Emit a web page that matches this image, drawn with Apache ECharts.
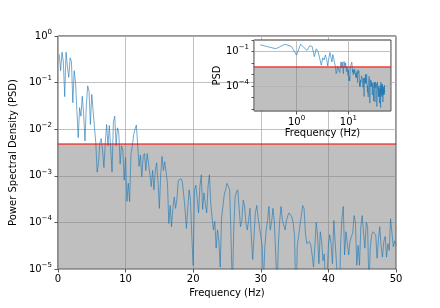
<!DOCTYPE html>
<html><head><meta charset="utf-8">
<script src="https://cdn.jsdelivr.net/npm/echarts@6/dist/echarts.min.js"></script>
<style>html,body{margin:0;padding:0;background:#fff}#c{width:440px;height:308px}</style>
</head><body><div id="c"></div>
<script>
// Frequency grid (Hz) of the PSD estimate
const freqStart = 0.2;
const freqStep = 0.2;
// PSD values, one per frequency bin (0.2 .. 50 Hz)
const psd = [
 0.40, 0.18, 0.45, 0.28, 0.05,
 0.45, 0.22, 0.13, 0.34, 0.28,
 3.7e-2, 0.18, 0.10, 2.5e-2, 6.6e-3,
 2.9e-2, 1.9e-2, 5.1e-2, 2.1e-2, 5.6e-3,
 3.2e-2, 8.5e-2, 6.6e-2, 1.26e-2, 5.6e-2,
 2.5e-2, 1.1e-2, 5.1e-3, 1.2e-3, 1.9e-3,
 5.0e-3, 6.3e-3, 3.5e-3, 1.5e-3, 5.1e-3,
 1.26e-2, 4.4e-3, 1.2e-2, 3.7e-3, 1.2e-3,
 1.4e-2, 1.9e-2, 4.4e-3, 1.07e-2, 8.5e-3,
 1.8e-3, 4.4e-3, 3.5e-3, 8.1e-4, 2.5e-3,
 2.8e-4, 6.9e-4, 2.8e-4, 3.0e-3, 4.3e-3,
 7.6e-3, 1.0e-2, 1.23e-2, 4.3e-3, 1.6e-3,
 2.8e-3, 9.5e-4, 2.6e-3, 3.0e-3, 1.3e-3,
 3.0e-3, 1.8e-3, 1.1e-3, 5.9e-4, 1.3e-3,
 5.0e-4, 1.26e-3, 1.9e-3, 7.4e-4, 2.0e-4,
 1.05e-3, 2.6e-3, 1.3e-3, 2.0e-3, 2.2e-3,
 6.9e-4, 9.5e-5, 2.3e-4, 8.1e-5, 2.0e-4,
 3.5e-4, 2.0e-4, 3.2e-4, 7.9e-4, 8.7e-4,
 8.7e-4, 7.4e-4, 4.0e-4, 1.9e-4, 7.4e-5,
 2.0e-4, 5.0e-4, 3.0e-4, 5.0e-5, 1.2e-5,
 5.0e-4, 6.3e-4, 3.2e-4, 1.6e-4, 5.9e-4,
 1.05e-3, 1.9e-4, 4.3e-4, 2.5e-4, 1.6e-4,
 5.9e-4, 1.05e-3, 2.6e-4, 1.26e-4, 6.9e-5,
 1.05e-4, 2.8e-5, 6.9e-5, 4.0e-5, 1.1e-5,
 1.26e-4, 2.2e-4, 4.0e-4, 5.0e-4, 6.9e-4,
 6.3e-4, 5.0e-4, 5.0e-5, 3.2e-6, 6.9e-5,
 3.5e-4, 4.5e-4, 5.0e-4, 2.0e-4, 8.1e-5,
 1.1e-4, 3.0e-4, 2.3e-4, 1.0e-4, 6.9e-5,
 1.1e-4, 2.0e-4, 5.0e-5, 1.6e-5, 5.0e-5,
 1.6e-4, 2.3e-4, 1.3e-4, 1.4e-4, 5.0e-5,
 3.2e-5, 5.0e-6, 3.0e-5, 6.9e-5, 1.1e-4,
 2.2e-4, 6.9e-5, 1.0e-4, 2.0e-4, 1.1e-4,
 2.2e-5, 4.0e-6, 3.2e-5, 1.1e-4, 2.2e-4,
 1.1e-4, 1.0e-4, 6.9e-5, 1.1e-4, 1.4e-4,
 1.6e-4, 1.7e-4, 1.3e-4, 9.5e-5, 5.0e-5,
 1.6e-6, 3.2e-5, 5.0e-5, 8.7e-5, 1.4e-4,
 2.3e-4, 2.0e-4, 5.9e-5, 3.5e-5, 3.2e-5,
 3.9e-5, 3.2e-5, 2.0e-5, 1.1e-5, 3.0e-5,
 1.0e-4, 5.0e-5, 1.3e-5, 6.3e-5, 4.0e-5,
 1.5e-5, 2.1e-5, 3.2e-6, 6.3e-6, 3.2e-5,
 5.4e-5, 3.5e-5, 1.3e-5, 1.1e-4, 1.0e-4,
 1.3e-5, 1.2e-5, 1.3e-6, 3.2e-5, 1.2e-4,
 2.2e-4, 2.0e-5, 6.3e-5, 6.8e-5, 2.0e-5,
 3.9e-5, 5.0e-5, 5.9e-5, 1.4e-4, 1.0e-4,
 1.2e-5, 3.2e-5, 1.2e-5, 8.1e-5, 1.4e-4,
 5.9e-5, 2.8e-5, 1.0e-4, 8.1e-5, 4.0e-6,
 3.0e-5, 5.4e-5, 6.3e-5, 5.9e-5, 5.4e-5,
 1.7e-5, 4.2e-5, 8.1e-5, 3.0e-5, 1.8e-5,
 3.9e-5, 5.0e-5, 1.8e-5, 3.5e-5, 2.5e-5,
 1.2e-4, 1.1e-4, 3.0e-5, 4.0e-5, 3.2e-5
];
const threshold = 0.0048;
// axis ranges / tick labels
const mainXRange = [0, 50];
const mainXInterval = 10;
const mainYRange = [1e-5, 1];
const mainYTickExponents = [0, -1, -2, -3, -4, -5];
const insetXRange = [0.152, 65.9];
const insetXTickExponents = [0, 1];
const insetYRange = [6.5e-7, 1.05];
const insetYTickExponents = [-1, -4];
const insetYGridValues = [1e-1, 1e-4];

const FONT = 'DejaVu Sans';
const pairs = psd.map((v, i) => [+(freqStart + i * freqStep).toFixed(1), v]);

function supLabel(allowed) {
  return function (v) {
    const l = Math.log10(v);
    const e = Math.round(l);
    if (Math.abs(l - e) > 1e-6 || allowed.indexOf(e) < 0) return '';
    const es = e < 0 ? '\u2212' + (-e) : '' + e;
    return '{b|10}{s|' + es + '}';
  };
}
// horizontal line across a whole x range at value y
function hLine(xr, y) {
  return [{ coord: [xr[0], y] }, { coord: [xr[1], y] }];
}
const rich = {
  b: { fontSize: 10, fontFamily: FONT, color: '#000', lineHeight: 15 },
  s: { fontSize: 7, fontFamily: FONT, color: '#000', lineHeight: 8, verticalAlign: 'top' }
};
const nameStyle = { fontSize: 10, fontFamily: FONT, color: '#000' };
const tick = { show: true, length: 3.5, lineStyle: { color: '#333', width: 0.8 } };
const gridLine = { color: '#b0b0b0', width: 0.8 };
const LINE_COLOR = '#1f77b4';
const RED = 'rgba(255,0,0,0.7)';
const FILL = 'rgba(128,128,128,0.5)';

const chart = echarts.init(document.getElementById('c'), null, { renderer: 'canvas' });
chart.setOption({
  animation: false,
  backgroundColor: '#fff',
  grid: [
    { left: 55, right: 44, top: 36, bottom: 39, show: true, borderColor: '#333', borderWidth: 1, backgroundColor: 'transparent', z: 0 },
    { left: 254, right: 49, top: 40, bottom: 197, show: true, borderColor: '#333', borderWidth: 1, backgroundColor: '#fff', z: 10 }
  ],
  xAxis: [
    { type: 'value', gridIndex: 0, min: mainXRange[0], max: mainXRange[1], interval: mainXInterval,
      axisLine: { show: false, onZero: false }, axisTick: tick,
      axisLabel: { margin: 5, fontSize: 10, fontFamily: FONT, color: '#000' },
      splitLine: { show: true, lineStyle: gridLine },
      name: 'Frequency (Hz)', nameLocation: 'middle', nameGap: 14, nameTextStyle: nameStyle },
    { type: 'log', logBase: 10, gridIndex: 1, min: insetXRange[0], max: insetXRange[1], z: 11,
      axisLine: { show: false, onZero: false }, axisTick: tick,
      axisLabel: { margin: 4, formatter: supLabel(insetXTickExponents), rich: rich, showMinLabel: false, showMaxLabel: false },
      splitLine: { show: true, lineStyle: gridLine },
      name: 'Frequency (Hz)', nameLocation: 'middle', nameGap: 16, nameTextStyle: nameStyle }
  ],
  yAxis: [
    { type: 'log', logBase: 10, gridIndex: 0, min: mainYRange[0], max: mainYRange[1],
      axisLine: { show: false, onZero: false }, axisTick: tick,
      axisLabel: { margin: 6, formatter: supLabel(mainYTickExponents), rich: rich },
      splitLine: { show: true, lineStyle: gridLine },
      name: 'Power Spectral Density (PSD)', nameLocation: 'middle', nameGap: 25, nameTextStyle: nameStyle },
    { type: 'log', logBase: 10, gridIndex: 1, min: insetYRange[0], max: insetYRange[1], z: 11,
      axisLine: { show: false, onZero: false }, axisTick: { show: true, length: 2.5, lineStyle: { color: '#333', width: 0.8 } },
      axisLabel: { margin: 5, formatter: supLabel(insetYTickExponents), rich: rich, showMinLabel: false, showMaxLabel: false },
      splitLine: { show: false },
      name: 'PSD', nameLocation: 'middle', nameGap: 30, nameTextStyle: nameStyle }
  ],
  series: [
    { type: 'line', xAxisIndex: 0, yAxisIndex: 0, data: pairs, z: 1, silent: true,
      showSymbol: false, lineStyle: { opacity: 0 }, itemStyle: { opacity: 0 },
      markArea: { silent: true, z: 1, itemStyle: { color: FILL },
        data: [[{ coord: [mainXRange[0], mainYRange[0]] }, { coord: [mainXRange[1], threshold] }]] } },
    { type: 'line', xAxisIndex: 0, yAxisIndex: 0, data: pairs, z: 2, silent: true,
      showSymbol: false, lineStyle: { color: LINE_COLOR, width: 0.9, opacity: 0.7 }, itemStyle: { color: LINE_COLOR },
      markLine: { silent: true, z: 5, symbol: 'none', label: { show: false },
        lineStyle: { color: RED, width: 1.5, type: 'solid' }, data: [hLine(mainXRange, threshold)] } },
    { type: 'line', xAxisIndex: 1, yAxisIndex: 1, data: pairs, z: 11, silent: true,
      showSymbol: false, lineStyle: { opacity: 0 }, itemStyle: { opacity: 0 },
      markLine: { silent: true, z: 11, symbol: 'none', label: { show: false },
        lineStyle: { color: '#b0b0b0', width: 0.8, type: 'solid' }, data: insetYGridValues.map(v => hLine(insetXRange, v)) },
      markArea: { silent: true, z: 11, itemStyle: { color: FILL },
        data: [[{ coord: [insetXRange[0], insetYRange[0]] }, { coord: [insetXRange[1], threshold] }]] } },
    { type: 'line', xAxisIndex: 1, yAxisIndex: 1, data: pairs, z: 12, silent: true,
      showSymbol: false, lineStyle: { color: LINE_COLOR, width: 0.9, opacity: 0.7 }, itemStyle: { color: LINE_COLOR },
      markLine: { silent: true, z: 13, symbol: 'none', label: { show: false },
        lineStyle: { color: RED, width: 1.5, type: 'solid' }, data: [hLine(insetXRange, threshold)] } }
  ]
});
</script></body></html>
